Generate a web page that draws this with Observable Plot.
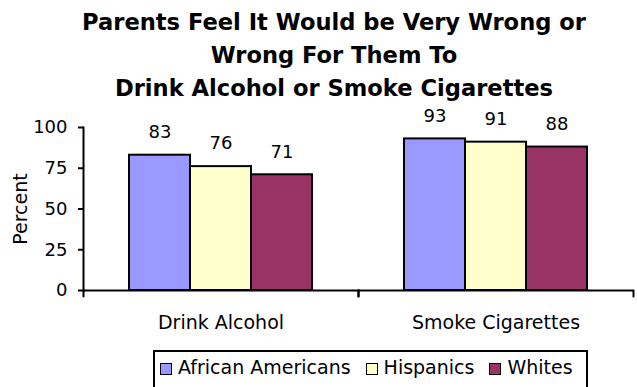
<!DOCTYPE html>
<html>
<head>
<meta charset="utf-8">
<script src="https://cdn.jsdelivr.net/npm/d3@7"></script>
<script src="https://cdn.jsdelivr.net/npm/@observablehq/plot@0.6"></script>
<style>
  body { margin: 0; background: white; width: 637px; overflow: hidden; }
  #title { font-family: "DejaVu Sans", sans-serif; font-weight: bold; font-size: 22.6px; line-height: 33px; text-align: center; padding-top: 6px; padding-left: 31px; box-sizing: border-box; width: 637px; color: black; white-space: nowrap; }
  #legend { margin-left: 153px; margin-top: 2px; width: 435px; height: 50px; border: 2px solid black; box-sizing: border-box; font-family: "DejaVu Sans", sans-serif; font-size: 19px; line-height: 22px; color: black; padding-top: 4px; padding-left: 5px; display: flex; flex-wrap: nowrap; }
  .item { display: inline-block; margin-right: 15px; white-space: nowrap; }
  .item:last-child { margin-right: 0; }
  .sw { display: inline-block; width: 10px; height: 10px; border: 1.5px solid black; margin-right: 6px; vertical-align: -1px; }
  #chart svg g[aria-label="y-axis label"] text { font-size: 19px; }
</style>
</head>
<body>
<div id="title">Parents Feel It Would be Very Wrong or<br>Wrong For Them To<br>Drink Alcohol or Smoke Cigarettes</div>
<div id="chart"></div>
<div id="legend"></div>
<script>
const categories = ["Drink Alcohol", "Smoke Cigarettes"];
const groups = ["African Americans", "Hispanics", "Whites"];
const drinkAlcohol = [83, 76, 71];
const smokeCigarettes = [93, 91, 88];
const yTicks = [0, 25, 50, 75, 100];
const colors = ["#9999FF", "#FFFFCC", "#993366"];

const seriesByCategory = [drinkAlcohol, smokeCigarettes];
const data = categories.flatMap((c, i) => groups.map((g, j) => ({category: c, group: g, value: seriesByCategory[i][j]})));

const tickShape = {draw(context, l) { context.moveTo(0, 0); context.lineTo(0, -l); }};

const chart = Plot.plot({
  width: 637,
  height: 243,
  marginLeft: 83,
  marginRight: 4,
  marginTop: 22,
  marginBottom: 58,
  style: {fontFamily: "DejaVu Sans, sans-serif", fontSize: "18px", color: "black", background: "white", overflow: "visible"},
  fx: {domain: categories, padding: 0},
  x: {domain: groups, paddingInner: 0, paddingOuter: 0.754, axis: null},
  y: {domain: [0, 100]},
  color: {domain: groups, range: colors},
  marks: [
    Plot.barY(data, {fx: "category", x: "group", y: "value", fill: "group", stroke: "black", strokeWidth: 2}),
    Plot.text(data, {fx: "category", x: "group", y: "value", text: d => String(d.value), dy: -23, fontSize: 18, fill: "black"}),
    Plot.ruleY([0], {stroke: "black", strokeWidth: 2}),
    Plot.frame({anchor: "left", facetAnchor: "left", stroke: "black", strokeWidth: 2}),
    Plot.vector([0], {frameAnchor: "bottom-left", length: 6, rotate: 180, anchor: "start", shape: tickShape, stroke: "black", strokeWidth: 2}),
    Plot.vector([0], {frameAnchor: "bottom-right", length: 6, rotate: 180, anchor: "start", shape: tickShape, stroke: "black", strokeWidth: 2}),
    Plot.axisY({ticks: yTicks, tickSize: 5, tickPadding: 11, strokeWidth: 2, stroke: "black", fill: "black", fontSize: 18, label: "Percent", labelAnchor: "center", labelOffset: 70, labelArrow: "none"}),
    Plot.axisFx({anchor: "bottom", tickSize: 0, tickPadding: 25, fontSize: 19, fill: "black", label: null})
  ]
});
document.getElementById("chart").appendChild(chart);

const legend = document.getElementById("legend");
groups.forEach((g, i) => {
  const item = document.createElement("span");
  item.className = "item";
  const sw = document.createElement("span");
  sw.className = "sw";
  sw.style.background = colors[i];
  item.appendChild(sw);
  item.appendChild(document.createTextNode(g));
  legend.appendChild(item);
});
</script>
</body>
</html>
